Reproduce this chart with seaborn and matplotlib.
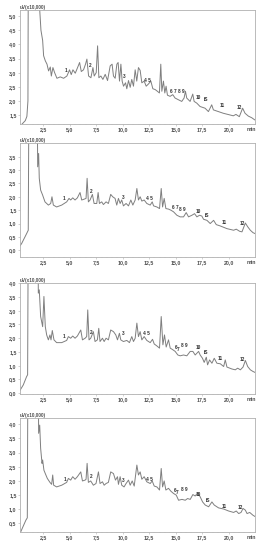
"""
Four stacked chromatograms (signal in uV x10,000 against retention time in min),
peaks numbered 1-12 plus the internal standard (IS).
"""

import pandas as pd
import seaborn as sns
import matplotlib.pyplot as plt

# Chromatogram 1
p1_time = [0.3, 0.55, 0.8, 0.95, 1.05, 1.1, 2.1, 2.15, 2.28, 2.44, 2.53, 2.69, 2.85, 3.0, 3.16, 3.26,
           3.41, 3.57, 3.79, 4.1, 4.42, 4.73, 4.98, 5.14, 5.3, 5.52, 5.74, 5.93, 6.09, 6.3, 6.49, 6.62,
           6.78, 7.0, 7.19, 7.31, 7.5, 7.63, 7.75, 7.94, 8.13, 8.35, 8.57, 8.82, 9.0, 9.13, 9.29, 9.45,
           9.57, 9.7, 9.83, 9.95, 10.08, 10.27, 10.39, 10.55, 10.71, 10.86, 11.02, 11.18, 11.33, 11.49,
           11.65, 11.81, 12.03, 12.22, 12.44, 12.66, 12.85, 13.07, 13.28, 13.47, 13.6, 13.7, 13.85,
           13.98, 14.1, 14.23, 14.48, 14.73, 14.95, 15.26, 15.58, 15.8, 15.93, 16.05, 16.37, 16.62,
           16.75, 17.0, 17.31, 17.78, 18.1, 18.41, 18.57, 19.04, 19.51, 20.14, 20.45, 20.7, 21.02,
           21.33, 21.56, 21.87, 22.2, 22.5]
p1_signal = [1.1, 1.2, 1.3, 1.45, 2.0, 9.0, 9.0, 5.3, 4.5, 4.14, 3.6, 3.42, 3.3, 3.06, 3.2, 2.88,
             3.18, 3.0, 2.8, 2.85, 2.8, 2.88, 3.1, 2.93, 3.1, 2.98, 3.18, 3.36, 3.04, 3.1, 3.3, 3.48,
             2.88, 2.82, 3.18, 2.88, 3.0, 3.95, 2.82, 2.88, 2.76, 2.94, 2.72, 3.24, 3.3, 2.88, 2.8, 3.3,
             3.36, 2.7, 3.3, 2.7, 2.52, 2.64, 2.43, 2.72, 2.48, 2.76, 2.52, 3.1, 2.7, 3.18,
             3.08, 2.64, 2.7, 2.52, 2.6, 2.7, 2.43, 2.4, 2.34, 2.28, 3.3, 2.34, 2.7,
             2.28, 2.52, 2.2, 2.16, 2.22, 2.1, 2.04, 1.98, 2.1, 2.34, 2.1, 1.98, 2.24,
             1.98, 1.92, 1.8, 1.74, 1.62, 1.86, 1.68, 1.62, 1.56, 1.5, 1.47, 1.52, 1.44,
             1.74, 1.56, 1.46, 1.4, 1.32]

# Chromatogram 2
p2_time = [0.0, 0.45, 0.92, 1.08, 1.18, 1.87, 1.97, 2.06, 2.12, 2.25, 2.44, 2.66, 2.98, 3.2, 3.32,
           3.45, 3.76, 4.24, 4.71, 4.93, 5.09, 5.28, 5.5, 5.72, 5.97, 6.13, 6.35, 6.54, 6.64, 6.76,
           6.92, 7.14, 7.3, 7.55, 7.68, 7.8, 8.02, 8.18, 8.43, 8.65, 8.87, 9.06, 9.28, 9.44, 9.6,
           9.76, 9.91, 10.07, 10.32, 10.55, 10.77, 10.96, 11.18, 11.34, 11.49, 11.65, 11.81, 12.03,
           12.28, 12.6, 12.79, 12.92, 13.23, 13.48, 13.64, 13.77, 13.92, 14.08, 14.33, 14.55, 14.8,
           15.12, 15.43, 15.75, 16.0, 16.22, 16.54, 16.79, 17.01, 17.26, 17.48, 17.64, 17.96, 18.27,
           18.59, 18.84, 19.22, 19.85, 20.48, 20.73, 21.05, 21.27, 21.59, 21.81, 22.06, 22.31, 22.53]
p2_signal = [0.0, 0.25, 0.62, 0.75, 9.0, 9.0, 3.12, 3.62, 2.69, 2.25, 2.06, 1.81, 1.69, 1.75, 2.0,
             1.69, 1.62, 1.69, 1.81, 1.94, 1.88, 1.96, 1.88, 1.96, 2.16, 1.88, 1.91, 1.94, 2.69, 1.81,
             1.88, 2.09, 1.75, 1.75, 2.16, 1.75, 1.81, 1.71, 1.81, 1.75, 2.09, 2.0, 1.94, 1.69, 1.94,
             1.75, 1.88, 1.66, 1.75, 1.66, 1.88, 1.69, 1.88, 2.31, 1.88, 2.0, 1.84, 1.88,
             1.75, 1.69, 1.81, 1.66, 1.62, 1.56, 2.31, 1.62, 1.94, 1.56, 1.54, 1.5, 1.44,
             1.31, 1.25, 1.25, 1.41, 1.25, 1.31, 1.37, 1.25, 1.31, 1.28, 1.16, 1.12, 1.0,
             1.12, 0.96, 0.91, 0.81, 0.75, 0.79, 0.71, 0.69, 1.02, 0.88, 0.75, 0.66, 0.62]

# Chromatogram 3
p3_time = [0.14, 0.61, 0.92, 1.02, 1.11, 1.97, 2.03, 2.12, 2.25, 2.44, 2.56, 2.69, 2.82, 2.98, 3.13,
           3.23, 3.35, 3.51, 3.76, 4.24, 4.71, 4.87, 5.09, 5.28, 5.5, 5.72, 6.04, 6.2, 6.45, 6.6,
           6.7, 6.82, 6.98, 7.23, 7.39, 7.61, 7.74, 7.86, 8.09, 8.25, 8.43, 8.65, 8.87, 9.13, 9.35,
           9.51, 9.69, 9.82, 10.07, 10.39, 10.64, 10.86, 11.02, 11.18, 11.34, 11.49, 11.65, 11.81,
           12.03, 12.28, 12.6, 12.82, 12.98, 13.23, 13.48, 13.64, 13.8, 13.95, 14.11, 14.33, 14.49,
           14.74, 14.96, 15.21, 15.43, 15.75, 16.06, 16.38, 16.63, 16.85, 17.17, 17.32, 17.54, 17.7,
           17.9, 18.02, 18.21, 18.43, 18.65, 18.9, 19.22, 19.54, 19.69, 19.85, 20.32, 20.64, 20.86,
           21.12, 21.37, 21.59, 21.81, 22.06, 22.31, 22.53]
p3_signal = [0.0, 0.3, 0.6, 0.67, 9.0, 9.0, 3.64, 3.76, 2.79, 2.42, 3.52, 2.42, 2.12, 1.94, 2.12,
             1.94, 2.28, 1.94, 1.84, 1.84, 1.92, 2.06, 2.0, 2.08, 2.0, 2.08, 2.3, 1.94, 2.0, 2.06,
             3.03, 1.94, 2.0, 2.24, 1.88, 1.94, 2.36, 1.88, 2.0, 1.88, 2.0, 1.94, 2.3, 2.24, 2.12,
             1.94, 2.18, 1.94, 1.88, 1.92, 1.84, 2.06, 1.88, 2.0, 2.55, 2.06, 2.24, 1.94,
             2.06, 1.92, 1.84, 1.96, 1.79, 1.72, 1.64, 2.79, 1.76, 2.12, 1.68, 1.94, 1.64,
             1.58, 1.52, 1.39, 1.36, 1.39, 1.36, 1.52, 1.52, 1.39, 1.52, 1.39, 1.27, 1.12,
             1.31, 1.03, 1.21, 1.09, 1.27, 1.09, 1.07, 0.97, 1.21, 0.95, 0.88, 0.85, 0.91,
             0.85, 0.95, 1.19, 0.97, 0.85, 0.79, 0.75]

# Chromatogram 4
p4_time = [0.36, 0.86, 0.99, 1.08, 1.97, 2.06, 2.16, 2.25, 2.38, 2.44, 2.56, 2.69, 2.88, 3.13, 3.29,
           3.39, 3.48, 3.76, 4.24, 4.71, 4.87, 5.09, 5.28, 5.5, 5.72, 6.04, 6.2, 6.45, 6.54, 6.64,
           6.76, 6.98, 7.23, 7.48, 7.71, 7.86, 8.09, 8.25, 8.43, 8.65, 8.87, 9.13, 9.32, 9.51, 9.6,
           9.76, 9.91, 10.13, 10.32, 10.55, 10.71, 10.9, 11.09, 11.34, 11.49, 11.65, 11.81, 12.03,
           12.28, 12.6, 12.79, 12.98, 13.23, 13.48, 13.64, 13.77, 13.92, 14.08, 14.33, 14.55, 14.8,
           15.06, 15.28, 15.6, 15.91, 16.13, 16.38, 16.63, 16.85, 17.11, 17.32, 17.55, 17.8, 18.12,
           18.43, 18.65, 19.06, 19.54, 20.01, 20.48, 20.73, 20.96, 21.18, 21.37, 21.59, 21.75, 22.0,
           22.31, 22.53]
p4_signal = [0.2, 0.62, 0.7, 9.0, 9.0, 3.68, 3.97, 3.15, 2.62, 2.74, 2.38, 2.26, 2.09, 1.95, 1.88,
             2.21, 1.85, 1.79, 1.85, 1.95, 2.09, 2.03, 2.15, 2.06, 2.15, 2.32, 2.0, 2.03, 2.06, 2.62,
             1.95, 2.0, 1.85, 1.91, 2.32, 1.91, 1.97, 1.85, 1.91, 1.95, 2.32, 2.26, 2.03, 2.15, 1.88,
             2.15, 1.85, 1.79, 1.91, 2.03, 1.85, 2.0, 1.82, 2.56, 2.21, 2.32, 2.06, 2.15,
             1.97, 1.91, 2.0, 1.82, 1.79, 1.68, 2.44, 1.79, 2.0, 1.68, 1.74, 1.64, 1.56,
             1.5, 1.32, 1.35, 1.32, 1.38, 1.35, 1.52, 1.47, 1.59, 1.44, 1.26, 1.15, 1.09,
             1.26, 1.15, 1.05, 1.01, 0.94, 0.89, 0.94, 0.85, 0.89, 1.03, 0.97, 0.85, 0.89,
             0.79, 0.74]

# peak labels: (text, time, height)
p1_peaks = [('1', 4.64, 3.08), ('2', 6.93, 3.24), ('3', 10.14, 2.88), ('4 5', 12.37, 2.73),
            ('6 7 8 9', 15.17, 2.34), ('10', 17.16, 2.13), ('IS', 17.88, 2.04), ('11', 19.42, 1.82),
            ('12', 21.02, 1.77)]
p2_peaks = [('1', 4.46, 1.94), ('2', 6.98, 2.19), ('3', 10.04, 1.96), ('4 5', 12.5, 1.94),
            ('6 7', 14.96, 1.59), ('8 9', 15.66, 1.54), ('10', 17.17, 1.46), ('IS', 17.96, 1.31),
            ('11', 19.6, 1.04), ('12', 21.33, 1.02)]
p3_peaks = [('1', 4.46, 2.08), ('2', 6.98, 2.21), ('3', 10.07, 2.16), ('4 5', 12.28, 2.18),
            ('6', 15.03, 1.67), ('7', 15.28, 1.6), ('8 9', 15.85, 1.72), ('10', 17.17, 1.67),
            ('IS', 17.86, 1.49), ('11', 19.22, 1.25), ('12', 21.3, 1.21)]
p4_peaks = [('1', 4.55, 2.06), ('2', 6.98, 2.17), ('3', 10.01, 2.03), ('4 5', 12.5, 2.06),
            ('6', 14.96, 1.68), ('7', 15.18, 1.59), ('8 9', 15.85, 1.7), ('10', 17.17, 1.54),
            ('IS', 18.02, 1.32), ('11', 19.6, 1.09), ('12', 21.11, 1.05)]

x_ticks = [2.5, 5.0, 7.5, 10.0, 12.5, 15.0, 17.5, 20.0]

panels = [
    # time, signal, peaks, ylim, yticks, (top px, bottom px)
    (p1_time, p1_signal, p1_peaks, (1.18, 5.22), [1.5, 2.0, 2.5, 3.0, 3.5, 4.0, 4.5, 5.0], (10, 124)),
    (p2_time, p2_signal, p2_peaks, (-0.25, 4.01), [0.0, 0.5, 1.0, 1.5, 2.0, 2.5, 3.0, 3.5], (143, 257)),
    (p3_time, p3_signal, p3_peaks, (-0.03, 4.01), [0.0, 0.5, 1.0, 1.5, 2.0, 2.5, 3.0, 3.5, 4.0], (283, 394)),
    (p4_time, p4_signal, p4_peaks, (0.2, 4.22), [0.5, 1.0, 1.5, 2.0, 2.5, 3.0, 3.5, 4.0], (418, 532)),
]

sns.set_style('ticks')
plt.rcParams['font.family'] = ['Liberation Sans', 'DejaVu Sans']

W, H = 264, 550
fig = plt.figure(figsize=(W / 100, H / 100), dpi=100)
fig.patch.set_facecolor('white')

line_col = '#7f7f7f'
frame_col = '#b0b0b0'
text_col = '#505050'


def comma(v):
    return f'{v:.1f}'.replace('.', ',')


for time, signal, peaks, ylim, yticks, (top, bottom) in panels:
    ax = fig.add_axes([20 / W, 1 - bottom / H, 235 / W, (bottom - top) / H])
    df = pd.DataFrame({'time': time, 'signal': signal})
    sns.lineplot(data=df, x='time', y='signal', ax=ax, color=line_col, linewidth=0.7,
                 estimator=None, sort=False)
    ax.set_xlim(0.3, 22.5)
    ax.set_ylim(*ylim)
    ax.set_xlabel('')
    ax.set_ylabel('')
    ax.set_xticks(x_ticks)
    ax.set_xticklabels([comma(v) for v in x_ticks], fontweight='bold')
    ax.set_xticks([t / 2 for t in range(1, 45)], minor=True)
    ax.set_yticks(yticks)
    ax.set_yticklabels([comma(v) for v in yticks], fontweight='bold')
    ax.tick_params(axis='both', labelsize=3.8, colors=frame_col, labelcolor=text_col,
                   length=1.5, width=0.4, pad=1)
    ax.tick_params(axis='x', which='minor', length=0.8, width=0.3, colors=frame_col)
    for s in ax.spines.values():
        s.set_color(frame_col)
        s.set_linewidth(0.6)
    ax.text(0.0, 1.0, 'uV(x10,000)', transform=ax.transAxes, fontsize=3.3, color=text_col,
            ha='left', va='bottom', fontweight='bold')
    ax.text(22.2, -0.025, 'min', transform=ax.get_xaxis_transform(), fontsize=3.8,
            color=text_col, ha='center', va='top', fontweight='bold')
    for label, t, v in peaks:
        ax.text(t, v, label, fontsize=3.4, color='#333333', ha='center', va='center',
                fontweight='bold')

fig.savefig('out.png', dpi=100, facecolor='white')
